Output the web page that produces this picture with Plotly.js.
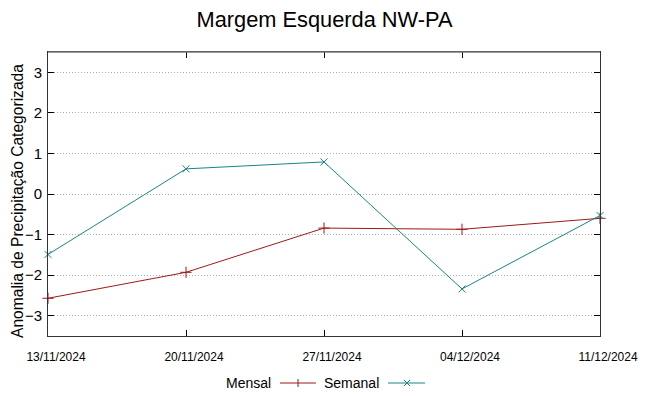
<!DOCTYPE html>
<html>
<head>
<meta charset="utf-8">
<script src="https://cdn.plot.ly/plotly-3.0.1.min.js"></script>
<style>html,body{margin:0;padding:0;background:#fff;}#chart{width:649px;height:396px;}</style>
</head>
<body>
<div id="chart"></div>
<script>
const dates = ['2024-11-13', '2024-11-20', '2024-11-27', '2024-12-04', '2024-12-11'];
const tickLabels = ['13/11/2024', '20/11/2024', '27/11/2024', '04/12/2024', '11/12/2024'];
const mensal = [-2.57, -1.93, -0.84, -0.87, -0.60];
const semanal = [-1.49, 0.62, 0.79, -2.34, -0.53];
const seriesNames = ['Mensal', 'Semanal'];
const yTitle = 'Anomalia de Precipitação Categorizada';

const redC = '#a01818';
const tealC = '#1a8585';
const font = 'Liberation Sans, Arial, sans-serif';

const traces = [
  {x: dates, y: mensal, name: seriesNames[0], type: 'scatter', mode: 'lines+markers',
   line: {color: redC, width: 1},
   marker: {symbol: 'line-ns-open', size: 8, color: redC, line: {color: redC, width: 1}},
   showlegend: false, cliponaxis: false},
  {x: dates, y: mensal, type: 'scatter', mode: 'markers', hoverinfo: 'skip',
   marker: {symbol: 'line-ew-open', size: 8, color: redC, line: {color: redC, width: 1}},
   showlegend: false, cliponaxis: false},
  {x: dates, y: semanal, name: seriesNames[1], type: 'scatter', mode: 'lines+markers',
   line: {color: tealC, width: 1},
   marker: {symbol: 'x-thin-open', size: 7, color: tealC, line: {color: tealC, width: 1}},
   showlegend: false, cliponaxis: false}
];

const px = v => (v - 48) / 552;
const py = v => (336 - v) / 284;
const shapes = [
  {type: 'line', xref: 'paper', yref: 'paper', x0: px(280), x1: px(316), y0: py(383), y1: py(383), line: {color: redC, width: 1}},
  {type: 'line', xref: 'paper', yref: 'paper', x0: px(298), x1: px(298), y0: py(379), y1: py(387), line: {color: redC, width: 1}},
  {type: 'line', xref: 'paper', yref: 'paper', x0: px(388), x1: px(425), y0: py(383), y1: py(383), line: {color: tealC, width: 1}},
  {type: 'line', xref: 'paper', yref: 'paper', x0: px(404), x1: px(410), y0: py(380), y1: py(386), line: {color: tealC, width: 1}},
  {type: 'line', xref: 'paper', yref: 'paper', x0: px(404), x1: px(410), y0: py(386), y1: py(380), line: {color: tealC, width: 1}},
  {type: 'line', xref: 'paper', yref: 'paper', x0: 0, x1: 1, y0: 1, y1: 1, line: {color: '#777', width: 1.5}}
];

const annotations = [
  {text: seriesNames[0], xref: 'paper', yref: 'paper', x: px(273), y: py(383), xanchor: 'right', yanchor: 'middle', showarrow: false, font: {family: font, size: 14, color: '#000'}},
  {text: seriesNames[1], xref: 'paper', yref: 'paper', x: px(381), y: py(383), xanchor: 'right', yanchor: 'middle', showarrow: false, font: {family: font, size: 14, color: '#000'}},
  {text: yTitle, xref: 'paper', yref: 'paper', x: px(17), y: py(201), xanchor: 'center', yanchor: 'middle', textangle: -90, showarrow: false, font: {family: font, size: 15.6, color: '#000'}}
];

const layout = {
  width: 649, height: 396,
  margin: {l: 48, r: 49, t: 52, b: 60},
  paper_bgcolor: '#fff', plot_bgcolor: '#fff',
  showlegend: false,
  title: {text: 'Margem Esquerda NW-PA', font: {family: font, size: 21.8, color: '#000'}, x: 0.5, xanchor: 'center', y: 0.95, yanchor: 'middle'},
  xaxis: {
    type: 'date', range: [dates[0], dates[dates.length-1]],
    tickvals: dates, ticktext: tickLabels,
    ticks: 'inside', ticklen: 6, tickcolor: '#000', tickwidth: 1,
    showgrid: false, zeroline: false,
    showline: true, linecolor: '#333', linewidth: 1, mirror: 'ticks',
    tickfont: {family: font, size: 12, color: '#000'},
    ticklabelstandoff: 10, ticklabelshift: 8
  },
  yaxis: {
    range: [-3.5, 3.5], tickvals: [-3, -2, -1, 0, 1, 2, 3],
    ticks: 'inside', ticklen: 6, tickcolor: '#000', tickwidth: 1,
    showgrid: true, gridcolor: '#b0b0b0', griddash: '1px,2px', gridwidth: 1,
    zeroline: false,
    showline: true, linecolor: '#333', linewidth: 1, mirror: 'ticks',
    tickfont: {family: font, size: 15, color: '#000'},
    ticklabelstandoff: 2
  },
  shapes: shapes,
  annotations: annotations
};

Plotly.newPlot('chart', traces, layout, {staticPlot: true});
</script>
</body>
</html>
